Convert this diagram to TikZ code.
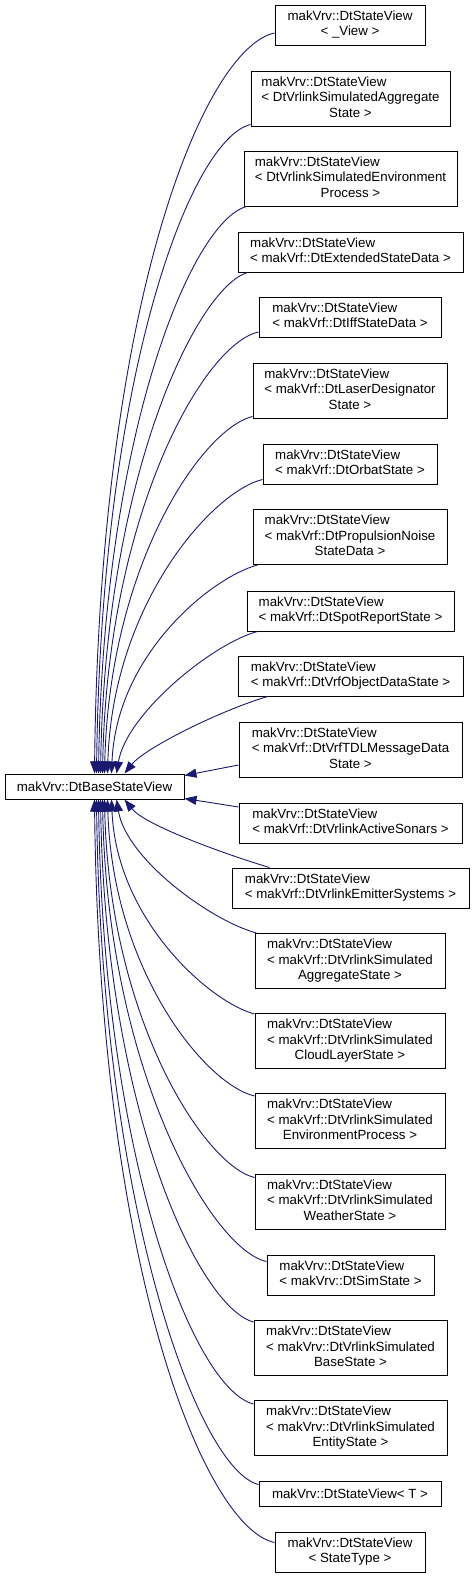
\documentclass[tikz,border=0pt]{standalone}
\usepackage{fontspec}
\setmainfont{Liberation Sans}
\usepackage{tikz}
\usetikzlibrary{arrows.meta}
\definecolor{edgeblue}{HTML}{191970}
\newcommand{\lbltwo}[2]{\begin{tabular}{@{}l@{}}#1\\\multicolumn{1}{@{}c@{}}{#2}\end{tabular}}
\newcommand{\lblthree}[3]{\begin{tabular}{@{}l@{}}#1\\#2\\\multicolumn{1}{@{}c@{}}{#3}\end{tabular}}
\tikzset{
  cls/.style={draw=black, line width=1pt, fill=white, inner sep=0pt,
    font=\fontsize{13.3}{15.5}\selectfont},
  inherit/.style={edgeblue, line width=0.9pt, -{Triangle[length=12pt,width=9pt]}}
}

\begin{document}
\begin{tikzpicture}[x=1pt,y=1pt]
\useasboundingbox (0,0) rectangle (475,-1577);
%classes
\node [cls, minimum width=179, minimum height=25] (base) at (94.5,-786.5) {makVrv::DtBaseStateView};
\node [cls, minimum width=150, minimum height=40] (view) at (350,-25) {\lbltwo{makVrv::DtStateView}{< \_View >}};
\node [cls, minimum width=199, minimum height=55] (simaggr) at (350.5,-98.5) {\lblthree{makVrv::DtStateView}{< DtVrlinkSimulatedAggregate}{State >}};
\node [cls, minimum width=213, minimum height=55] (simenv) at (350.5,-178.5) {\lblthree{makVrv::DtStateView}{< DtVrlinkSimulatedEnvironment}{Process >}};
\node [cls, minimum width=225, minimum height=40] (extstate) at (350.5,-252) {\lbltwo{makVrv::DtStateView}{< makVrf::DtExtendedStateData >}};
\node [cls, minimum width=182, minimum height=40] (iff) at (350,-317) {\lbltwo{makVrv::DtStateView}{< makVrf::DtIffStateData >}};
\node [cls, minimum width=194, minimum height=55] (laser) at (350,-390.5) {\lblthree{makVrv::DtStateView}{< makVrf::DtLaserDesignator}{State >}};
\node [cls, minimum width=174, minimum height=40] (orbat) at (350,-464) {\lbltwo{makVrv::DtStateView}{< makVrf::DtOrbatState >}};
\node [cls, minimum width=194, minimum height=55] (propnoise) at (350,-537) {\lblthree{makVrv::DtStateView}{< makVrf::DtPropulsionNoise}{StateData >}};
\node [cls, minimum width=207, minimum height=40] (spot) at (350.5,-611) {\lbltwo{makVrv::DtStateView}{< makVrf::DtSpotReportState >}};
\node [cls, minimum width=225, minimum height=40] (objdata) at (350.5,-676) {\lbltwo{makVrv::DtStateView}{< makVrf::DtVrfObjectDataState >}};
\node [cls, minimum width=223, minimum height=55] (tdl) at (350.5,-749.5) {\lblthree{makVrv::DtStateView}{< makVrf::DtVrfTDLMessageData}{State >}};
\node [cls, minimum width=223, minimum height=40] (sonars) at (350.5,-823) {\lbltwo{makVrv::DtStateView}{< makVrf::DtVrlinkActiveSonars >}};
\node [cls, minimum width=237, minimum height=40] (emitter) at (350.5,-888) {\lbltwo{makVrv::DtStateView}{< makVrf::DtVrlinkEmitterSystems >}};
\node [cls, minimum width=190, minimum height=55] (aggrstate) at (350,-961) {\lblthree{makVrv::DtStateView}{< makVrf::DtVrlinkSimulated}{AggregateState >}};
\node [cls, minimum width=190, minimum height=55] (cloud) at (350,-1041) {\lblthree{makVrv::DtStateView}{< makVrf::DtVrlinkSimulated}{CloudLayerState >}};
\node [cls, minimum width=190, minimum height=55] (envproc) at (350,-1121) {\lblthree{makVrv::DtStateView}{< makVrf::DtVrlinkSimulated}{EnvironmentProcess >}};
\node [cls, minimum width=190, minimum height=55] (weather) at (350,-1201.5) {\lblthree{makVrv::DtStateView}{< makVrf::DtVrlinkSimulated}{WeatherState >}};
\node [cls, minimum width=167, minimum height=40] (simstate) at (350.5,-1275) {\lbltwo{makVrv::DtStateView}{< makVrv::DtSimState >}};
\node [cls, minimum width=193, minimum height=55] (basestate) at (350.5,-1348) {\lblthree{makVrv::DtStateView}{< makVrv::DtVrlinkSimulated}{BaseState >}};
\node [cls, minimum width=193, minimum height=55] (entity) at (350.5,-1428) {\lblthree{makVrv::DtStateView}{< makVrv::DtVrlinkSimulated}{EntityState >}};
\node [cls, minimum width=182, minimum height=25] (tview) at (350,-1493.5) {makVrv::DtStateView< T >};
\node [cls, minimum width=150, minimum height=40] (stype) at (350,-1552) {\lbltwo{makVrv::DtStateView}{< StateType >}};
%edges above
\draw [inherit] ([yshift=-8pt]view.west) .. controls +(-70,-15) and +(5,474) .. ([xshift=0pt]base.north);
\draw [inherit] ([yshift=2pt]simaggr.south west) .. controls +(-60,-15) and +(5,400) .. ([xshift=2pt]base.north);
\draw [inherit] ([xshift=3pt]simenv.south west) .. controls +(-55,-15) and +(5,340) .. ([xshift=4pt]base.north);
\draw [inherit] ([xshift=10pt]extstate.south west) .. controls +(-50,-15) and +(5,300) .. ([xshift=6pt]base.north);
\draw [inherit] ([yshift=-15pt]iff.west) .. controls +(-55,-12) and +(5,260) .. ([xshift=8pt]base.north);
\draw [inherit] ([yshift=2pt]laser.south west) .. controls +(-50,-12) and +(5,210) .. ([xshift=10pt]base.north);
\draw [inherit] ([yshift=5pt]orbat.south west) .. controls +(-50,-12) and +(5,170) .. ([xshift=13pt]base.north);
\draw [inherit] ([xshift=5pt]propnoise.south west) .. controls +(-45,-12) and +(5,120) .. ([xshift=17pt]base.north);
\draw [inherit] ([xshift=11pt]spot.south west) .. controls +(-45,-12) and +(10,60) .. ([xshift=22pt]base.north);
\draw [inherit] ([xshift=30pt]objdata.south west) .. controls +(-50,-15) and +(20,25) .. ([xshift=30pt]base.north);
\draw [inherit] ([yshift=-15.5pt]tdl.west) -- ([yshift=-2pt]base.north east);
%edges below
\draw [inherit] ([yshift=16pt]sonars.west) -- ([yshift=1pt]base.south east);
\draw [inherit] ([xshift=38pt]emitter.north west) .. controls +(-50,15) and +(20,-25) .. ([xshift=30pt]base.south);
\draw [inherit] ([xshift=2pt]aggrstate.north west) .. controls +(-45,12) and +(10,-60) .. ([xshift=22pt]base.south);
\draw [inherit] ([yshift=-1pt]cloud.north west) .. controls +(-45,12) and +(5,-120) .. ([xshift=17pt]base.south);
\draw [inherit] ([yshift=-3pt]envproc.north west) .. controls +(-50,12) and +(5,-170) .. ([xshift=13pt]base.south);
\draw [inherit] ([yshift=-4pt]weather.north west) .. controls +(-50,12) and +(5,-220) .. ([xshift=10pt]base.south);
\draw [inherit] ([yshift=-7pt]simstate.north west) .. controls +(-55,12) and +(5,-270) .. ([xshift=8pt]base.south);
\draw [inherit] ([yshift=-2pt]basestate.north west) .. controls +(-55,15) and +(5,-310) .. ([xshift=6pt]base.south);
\draw [inherit] ([yshift=-4pt]entity.north west) .. controls +(-60,15) and +(5,-360) .. ([xshift=4pt]base.south);
\draw [inherit] ([yshift=-4pt]tview.north west) .. controls +(-60,15) and +(5,-410) .. ([xshift=2pt]base.south);
\draw [inherit] ([yshift=-11pt]stype.north west) .. controls +(-70,15) and +(5,-470) .. ([xshift=0pt]base.south);
\end{tikzpicture}
\end{document}
